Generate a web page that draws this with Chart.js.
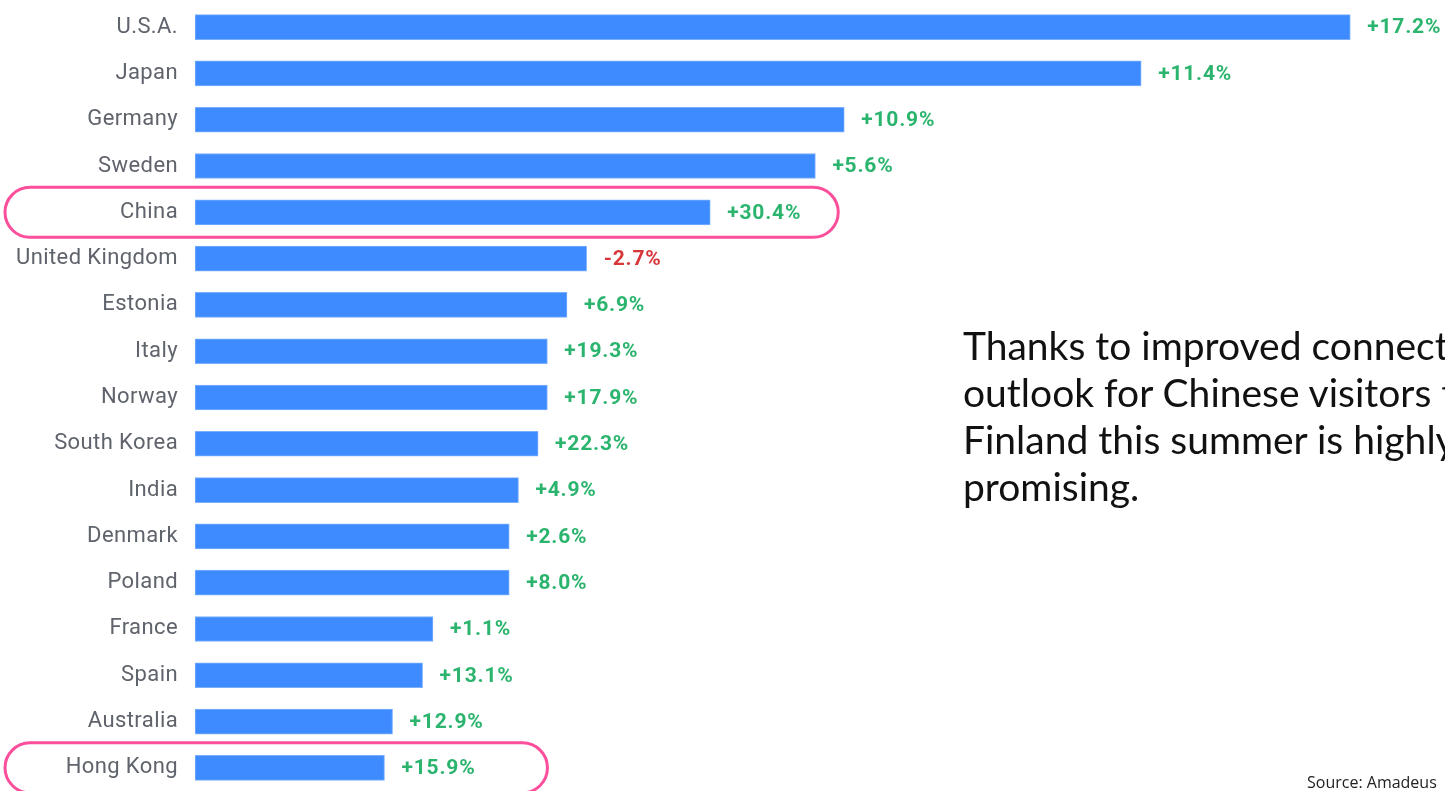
<!DOCTYPE html>
<html>
<head>
<meta charset="utf-8">
<script src="https://cdn.jsdelivr.net/npm/chart.js@4"></script>
<style>
  html, body { margin: 0; padding: 0; background: #fff; }
  body { width: 1445px; height: 791px; overflow: hidden; position: relative; }
  #wrap { position: absolute; left: 0; top: 0; width: 1445px; height: 791px; }
  #note {
    position: absolute; left: 963px; top: 322px;
    font-family: Lato, "Open Sans", sans-serif; font-size: 39px; line-height: 47px;
    color: #111; white-space: nowrap;
  }
  #source {
    position: absolute; left: 1307px; top: 771px;
    font-family: "Open Sans", sans-serif; font-size: 16px; color: #222; white-space: nowrap;
  }
</style>
</head>
<body>
<div id="wrap"><canvas id="chart" width="1445" height="791"></canvas></div>
<div id="note">Thanks to improved connectivity, the<br>outlook for Chinese visitors to<br>Finland this summer is highly<br>promising.</div>
<div id="source">Source: Amadeus</div>
<script>
// markets, bookings index (U.S.A. = 100) and year-on-year growth
const countries = ['U.S.A.', 'Japan', 'Germany', 'Sweden', 'China', 'United Kingdom', 'Estonia', 'Italy',
  'Norway', 'South Korea', 'India', 'Denmark', 'Poland', 'France', 'Spain', 'Australia', 'Hong Kong'];
const bookings = [100, 81.9, 56.2, 53.7, 44.6, 33.9, 32.2, 30.5, 30.5, 29.7, 28.0, 27.2, 27.2, 20.6, 19.7, 17.1, 16.4];
const growth = [17.2, 11.4, 10.9, 5.6, 30.4, -2.7, 6.9, 19.3, 17.9, 22.3, 4.9, 2.6, 8.0, 1.1, 13.1, 12.9, 15.9];
const highlighted = ['China', 'Hong Kong'];

const GREEN = '#2bb46d';
const RED = '#d7373b';
const PINK = '#fb4f9c';

// slightly spaced lettering for the country names
const spacing = {
  id: 'spacing',
  beforeDraw(chart) { chart.ctx.letterSpacing = '0.4px'; }
};

// growth figure to the right of each bar
const growthLabels = {
  id: 'growthLabels',
  afterDatasetsDraw(chart) {
    const ctx = chart.ctx;
    const meta = chart.getDatasetMeta(0);
    ctx.save();
    ctx.font = 'bold 21px Roboto';
    ctx.letterSpacing = '0.8px';
    ctx.textBaseline = 'middle';
    ctx.textAlign = 'left';
    meta.data.forEach((bar, i) => {
      const g = growth[i];
      ctx.fillStyle = g < 0 ? RED : GREEN;
      const txt = (g < 0 ? '-' : '+') + Math.abs(g).toFixed(1) + '%';
      ctx.fillText(txt, bar.x + 17, bar.y + 1);
    });
    ctx.restore();
  }
};

// rounded outline around selected rows
const highlightBoxes = {
  id: 'highlightBoxes',
  afterDraw(chart, args, opts) {
    const ctx = chart.ctx;
    const meta = chart.getDatasetMeta(0);
    ctx.save();
    ctx.strokeStyle = PINK;
    ctx.lineWidth = 3;
    highlighted.forEach(name => {
      const i = countries.indexOf(name);
      const bar = meta.data[i];
      const extra = opts.extra[name] || 130;
      const x = opts.left;
      const w = bar.x + extra - x;
      const h = opts.height;
      const y = bar.y - h / 2;
      ctx.beginPath();
      ctx.roundRect(x, y, w, h, h / 2);
      ctx.stroke();
    });
    ctx.restore();
  }
};

new Chart(document.getElementById('chart'), {
  type: 'bar',
  data: {
    labels: countries,
    datasets: [{
      data: bookings,
      backgroundColor: '#3d8bfe',
      borderColor: '#7cb0ff',
      borderWidth: 1,
      borderSkipped: false,
      barThickness: 25
    }]
  },
  options: {
    indexAxis: 'y',
    responsive: false,
    animation: false,
    devicePixelRatio: 1,
    layout: { padding: { top: 4, right: 0, bottom: -1, left: 0 } },
    scales: {
      x: { display: false, min: 0, max: 108.2 },
      y: {
        grid: { display: false, drawTicks: false },
        border: { display: false },
        ticks: {
          padding: 17,
          color: '#5f636b',
          font: { family: 'Roboto', size: 22 }
        },
        afterFit(scale) {
          scale.width = 195;
          scale.paddingTop = 0;
          scale.paddingBottom = 0;
        }
      }
    },
    plugins: {
      legend: { display: false },
      tooltip: { enabled: false },
      highlightBoxes: { left: 5, height: 50, extra: { 'China': 128, 'Hong Kong': 163 } }
    }
  },
  plugins: [spacing, growthLabels, highlightBoxes]
});
</script>
</body>
</html>
